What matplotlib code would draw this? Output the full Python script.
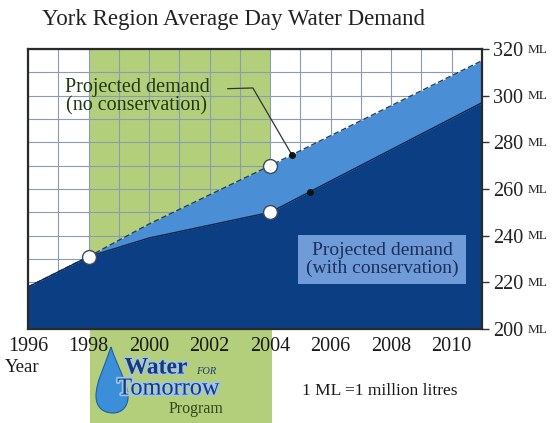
import numpy as np
import matplotlib
matplotlib.use("Agg")
import matplotlib.pyplot as plt
from matplotlib.patches import Rectangle, PathPatch
from matplotlib.path import Path
import matplotlib.patheffects as pe

# ---- data ----
years = [1996, 1998, 2000, 2004, 2011]
demand_with_conservation = [218, 231, 239, 250, 297]
demand_no_conservation = [218, 231, 245, 270, 315]
marker_years = [1998, 2004]
program_start, program_end = 1998, 2004
xtick_years = [1996, 1998, 2000, 2002, 2004, 2006, 2008, 2010]
ytick_values = [200, 220, 240, 260, 280, 300, 320]

SERIF = ["Liberation Serif", "DejaVu Serif"]
plt.rcParams["font.family"] = SERIF

W, H = 556, 423
fig = plt.figure(figsize=(W / 100, H / 100), dpi=100)
fig.patch.set_facecolor("white")

def fx(px):
    return px / W

def fy(py):
    return 1 - py / H

L, R, T, B = 28, 482, 49, 329
ax = fig.add_axes([fx(L), fy(B), fx(R) - fx(L), fy(T) - fy(B)])
ax.set_xlim(1996, 2011)
ax.set_ylim(200, 320)

GREEN = "#b4cf7c"
DARK = "#0c3e84"
LIGHT = "#4a8fd6"
GRID = "#8a9db0"

# program band
ax.axvspan(program_start, program_end, color=GREEN, zorder=0, lw=0)
# green band continuing below the plot
fig.patches.append(Rectangle((fx(90), 0), fx(272) - fx(90), fy(B) - 0,
                             transform=fig.transFigure, facecolor=GREEN,
                             edgecolor="none", zorder=-1))

# grid
ax.set_xticks(np.arange(1996, 2012, 1), minor=True)
ax.set_yticks(np.arange(200, 321, 10), minor=True)
ax.grid(which="both", color=GRID, lw=0.8, zorder=1)
ax.set_axisbelow(True)

# fills
ax.fill_between(years, demand_with_conservation, demand_no_conservation,
                color=LIGHT, lw=0, zorder=2)
ax.fill_between(years, 200, demand_with_conservation, color=DARK, lw=0, zorder=3)
ax.plot(years, demand_no_conservation, color="#1d3d6e", lw=1.0, ls=(0, (4, 2)), zorder=4)
ax.plot(years, demand_with_conservation, color="#0a2450", lw=1.0, zorder=4)

# markers
for yr in marker_years:
    i = years.index(yr)
    for val in {demand_with_conservation[i], demand_no_conservation[i]}:
        ax.plot(yr, val, "o", ms=10, mfc="white", mec="#3a4a5a", mew=1.0, zorder=6)

# leader for "no conservation"
x_dot1 = 2004.72
y_dot1 = np.interp(x_dot1, years, demand_no_conservation)
ax.plot([2002.6, 2003.43, x_dot1], [303.0, 303.3, y_dot1], color="#333333", lw=0.9, zorder=5)
ax.plot(x_dot1, y_dot1, "o", ms=4, color="#111111", zorder=6)
x_dot2 = 2005.32
y_dot2 = np.interp(x_dot2, years, demand_with_conservation)
ax.plot(x_dot2, y_dot2, "o", ms=4, color="#111111", zorder=6)

ax.text(1999.6, 299.5, "Projected demand\n(no conservation)", ha="center", va="center",
        fontsize=14.5, color="#1f3a12", linespacing=1.0, zorder=7)
ax.text(2007.7, 229.8, "Projected demand\n(with conservation)", ha="center", va="center",
        fontsize=14, color="#1b2f5a", linespacing=1.0, zorder=7,
        bbox=dict(boxstyle="square,pad=0.4", facecolor="#6f9bd8", edgecolor="none"))

# spines
for s in ax.spines.values():
    s.set_color("#2a2a2a")
    s.set_linewidth(1.6)
    s.set_zorder(8)

# ticks
ax.yaxis.tick_right()
ax.set_yticks(ytick_values)
ax.set_yticklabels([str(v) for v in ytick_values])
ax.tick_params(axis="y", which="major", direction="out", length=5, width=1,
               color="#333333", pad=3, labelsize=14.5, labelcolor="#222222")
ax.tick_params(axis="y", which="minor", length=0)
ax.set_xticks(xtick_years)
ax.set_xticklabels([str(y) for y in xtick_years])
ax.tick_params(axis="x", which="both", length=0, pad=6, labelsize=14.5, labelcolor="#1a1a1a")
for v in ytick_values:
    ax.annotate("ML", xy=(1, v), xycoords=("axes fraction", "data"),
                xytext=(33, -0.5), textcoords="offset points", ha="left", va="center",
                fontsize=9.5, color="#222222", annotation_clip=False)

# title and other texts
fig.text(fx(234), fy(19), "York Region Average Day Water Demand", ha="center", va="center",
         fontsize=16.5, color="#222222")
fig.text(fx(5), fy(367), "Year", ha="left", va="center", fontsize=13.5, color="#1a1a1a")
fig.text(fx(380), fy(391), "1 ML =1 million litres", ha="center", va="center",
         fontsize=12.5, color="#1a1a1a")

# Water for Tomorrow logo
drop_verts = [(111, 347), (104, 368), (96, 382), (96, 396), (96, 408), (104, 413), (113, 413),
              (123, 413), (129, 405), (128, 394), (127, 382), (118, 368), (111, 347)]
drop_codes = [Path.MOVETO] + [Path.CURVE4] * 12
path = Path([(fx(x), fy(y)) for x, y in drop_verts], drop_codes)
fig.patches.append(PathPatch(path, transform=fig.transFigure, facecolor="#3b8fd8",
                             edgecolor="#1e5fa8", lw=0.8, zorder=2))
fig.text(fx(156), fy(368), "Water", ha="center", va="center", fontsize=17, fontweight="bold",
         color="#1b3875", zorder=3,
         path_effects=[pe.withStroke(linewidth=2, foreground="#9cc6ef")])
fig.text(fx(196), fy(371), "FOR", ha="left", va="center", fontsize=7.5, style="italic",
         color="#1b3875", zorder=3)
fig.text(fx(168), fy(389), "Tomorrow", ha="center", va="center", fontsize=17.5,
         color="#1b3875", zorder=3,
         path_effects=[pe.withStroke(linewidth=2.5, foreground="#9cc6ef")])
fig.text(fx(196), fy(409), "Program", ha="center", va="center", fontsize=11.5,
         color="#2d4a1a", zorder=3)

fig.savefig("out.png", dpi=100, facecolor="white")
